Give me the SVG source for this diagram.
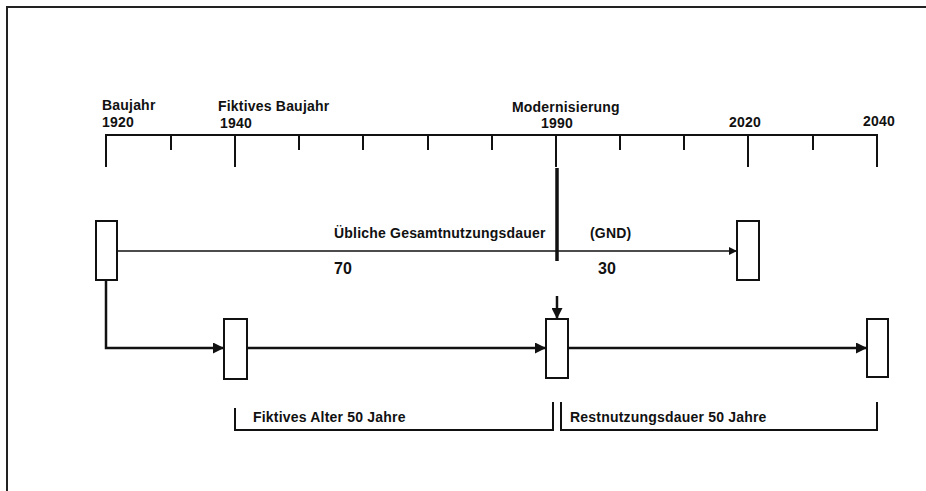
<svg xmlns="http://www.w3.org/2000/svg" width="926" height="491" viewBox="0 0 926 491">
<style>
text{font-family:"Liberation Sans",Arial,sans-serif;font-weight:bold;font-size:14px;letter-spacing:0.2px;fill:#111}
.ax{stroke:#111;stroke-width:2;fill:none}
.box{fill:#fff;stroke:#111;stroke-width:2}
.thin{stroke:#111;stroke-width:1.3;fill:none}
.thick{stroke:#111;stroke-width:2.5;fill:none}
</style>
<defs>
<marker id="ah" viewBox="0 0 10 10" refX="10" refY="5" markerWidth="14" markerHeight="8" markerUnits="userSpaceOnUse" orient="auto"><path d="M0,0L10,5L0,10z" fill="#111"/></marker>
<marker id="ahb" viewBox="0 0 10 10" refX="10" refY="5" markerWidth="16" markerHeight="11" markerUnits="userSpaceOnUse" orient="auto"><path d="M0,0L10,5L0,10z" fill="#111"/></marker>
</defs>
<rect width="926" height="491" fill="#fff"/>
<g id="frame"><path d="M7,491V7H926" stroke="#222" stroke-width="2" fill="none"/></g>
<g id="axis">
<path class="ax" d="M106,167V135H877V167"/>
<path class="ax" d="M235,135V167M556,135V167M748,135V167"/>
<path class="ax" d="M171,135V150M299,135V150M363,135V150M428,135V150M492,135V150M620,135V150M684,135V150M813,135V150"/>
<text x="102" y="110">Baujahr</text>
<text x="102" y="127">1920</text>
<text x="218" y="111">Fiktives Baujahr</text>
<text x="220" y="128">1940</text>
<text x="512" y="112">Modernisierung</text>
<text x="541" y="128">1990</text>
<text x="729" y="127">2020</text>
<text x="863" y="126">2040</text>
</g>
<g id="connectors">
<path d="M557,168V261" stroke="#111" stroke-width="3.5"/>
<path class="thin" d="M117,251H737" marker-end="url(#ah)"/>
<path class="thick" d="M106,280V348H224" marker-end="url(#ahb)"/>
<path class="thick" d="M247,348H546" marker-end="url(#ahb)"/>
<path class="thick" d="M568,348H867" marker-end="url(#ahb)"/>
<path class="thick" d="M557,296V319" marker-end="url(#ahb)"/>
</g>
<g id="node-1920"><rect class="box" x="96" y="221" width="21" height="59"/></g>
<g id="node-2020"><rect class="box" x="737" y="221" width="22" height="59"/></g>
<g id="node-1940"><rect class="box" x="224" y="319" width="23" height="60"/></g>
<g id="node-1990"><rect class="box" x="546" y="319" width="22" height="59"/></g>
<g id="node-2040"><rect class="box" x="867" y="319" width="21" height="58"/></g>
<g id="labels">
<text x="334" y="238">Übliche Gesamtnutzungsdauer</text>
<text x="590" y="238">(GND)</text>
<text x="334" y="274" style="font-size:16px">70</text>
<text x="598" y="274" style="font-size:16px">30</text>
</g>
<g id="brackets">
<path class="ax" d="M235,408V430H553V402"/>
<path class="ax" d="M561,402V430H877V402"/>
<text x="253" y="422">Fiktives Alter 50 Jahre</text>
<text x="570" y="422">Restnutzungsdauer 50 Jahre</text>
</g>
</svg>
